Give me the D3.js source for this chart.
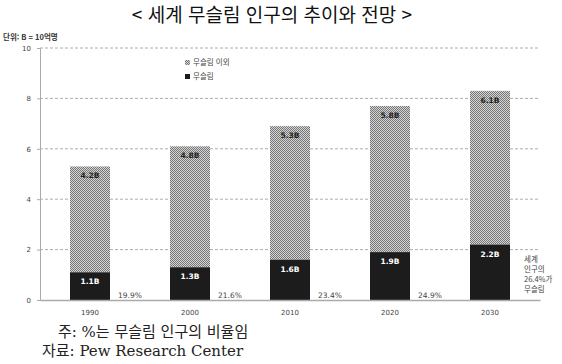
<!DOCTYPE html>
<html lang="ko">
<head>
  <meta charset="UTF-8">
  <title>세계 무슬림 인구의 추이와 전망</title>
  <style>
    body { margin: 0; background: #fff; }
    svg { display: block; }
  </style>
</head>
<body>
  <svg id="svg" width="562" height="364"></svg>
  <script src="https://d3js.org/d3.v7.min.js"></script>
  <script>
    // data (B = 10억명)
    const years = ['1990', '2000', '2010', '2020', '2030']
    const muslim = [1.1, 1.3, 1.6, 1.9, 2.2]
    const others = [4.2, 4.8, 5.3, 5.8, 6.1]
    const shares = ['19.9%', '21.6%', '23.4%', '24.9%']
    const yTicks = [0, 2, 4, 6, 8, 10]

    const svg = d3.select('#svg')
    const margin = { left: 40, right: 22, top: 48, bottom: 64 }
    const W = 562, H = 364

    // dotted fill for non-muslim part
    const defs = svg.append('defs')
    const pat = defs.append('pattern')
      .attr('id', 'dots').attr('width', 2).attr('height', 2)
      .attr('patternUnits', 'userSpaceOnUse')
    pat.append('rect').attr('width', 2).attr('height', 2).attr('fill', '#d4d4d4')
    pat.append('rect').attr('width', 1).attr('height', 1).attr('fill', '#777')
    pat.append('rect').attr('x', 1).attr('y', 1).attr('width', 1).attr('height', 1).attr('fill', '#777')

    const x = d3.scaleBand().domain(years)
      .range([margin.left, W - margin.right]).paddingInner(0.6).paddingOuter(0.3)
    const y = d3.scaleLinear().domain([0, 10]).range([H - margin.bottom, margin.top])

    // title
    svg.append('text').attr('x', 272).attr('y', 22)
      .attr('text-anchor', 'middle')
      .attr('font-family', "'Noto Sans CJK KR', sans-serif")
      .attr('font-size', 19).attr('fill', '#111')
      .text('< 세계 무슬림 인구의 추이와 전망 >')

    svg.append('text').attr('x', 3).attr('y', 40)
      .attr('font-family', "'Noto Sans CJK KR', sans-serif")
      .attr('font-size', 7.5).attr('font-weight', 'bold').attr('fill', '#333')
      .text('단위: B = 10억명')

    // gridlines
    svg.append('g').selectAll('line')
      .data(yTicks.filter(d => d > 0))
      .join('line')
      .attr('x1', margin.left).attr('x2', W - margin.right)
      .attr('y1', d => y(d)).attr('y2', d => y(d))
      .attr('stroke', '#999').attr('stroke-width', 0.8)
      .attr('stroke-dasharray', '3,2')

    // y axis
    const yAxis = svg.append('g')
      .attr('transform', `translate(${margin.left},0)`)
      .call(d3.axisLeft(y).tickValues(yTicks).tickSize(3).tickPadding(6))
    yAxis.select('.domain').attr('stroke', '#aaa')
    yAxis.selectAll('.tick line').attr('stroke', '#aaa')
    yAxis.selectAll('text').attr('font-family', 'DejaVu Sans').attr('font-size', 7).attr('fill', '#444')

    // bars
    const bars = svg.append('g').selectAll('g').data(years).join('g')
    bars.append('rect')
      .attr('x', d => x(d)).attr('width', x.bandwidth())
      .attr('y', (d, i) => y(muslim[i] + others[i]))
      .attr('height', (d, i) => y(muslim[i]) - y(muslim[i] + others[i]))
      .attr('fill', 'url(#dots)')
    bars.append('rect')
      .attr('x', d => x(d)).attr('width', x.bandwidth())
      .attr('y', (d, i) => y(muslim[i]))
      .attr('height', (d, i) => y(0) - y(muslim[i]))
      .attr('fill', '#1c1c1c')

    bars.append('text')
      .attr('x', d => x(d) + x.bandwidth() / 2)
      .attr('y', (d, i) => y(muslim[i] + others[i]) + 12)
      .attr('text-anchor', 'middle')
      .attr('font-family', 'DejaVu Sans').attr('font-size', 7.5).attr('font-weight', 'bold')
      .attr('fill', '#222')
      .text((d, i) => others[i].toFixed(1) + 'B')
    bars.append('text')
      .attr('x', d => x(d) + x.bandwidth() / 2)
      .attr('y', (d, i) => y(muslim[i]) + 12)
      .attr('text-anchor', 'middle')
      .attr('font-family', 'DejaVu Sans').attr('font-size', 7.5).attr('font-weight', 'bold')
      .attr('fill', '#fff')
      .text((d, i) => muslim[i].toFixed(1) + 'B')

    // share labels beside bars
    svg.append('g').selectAll('text').data(shares).join('text')
      .attr('x', (d, i) => x(years[i]) + x.bandwidth() + 20)
      .attr('y', y(0) - 2)
      .attr('text-anchor', 'middle')
      .attr('font-family', 'DejaVu Sans').attr('font-size', 7.5)
      .attr('fill', '#444')
      .text(d => d)

    // x axis
    const xAxis = svg.append('g')
      .attr('transform', `translate(0,${y(0)})`)
      .call(d3.axisBottom(x).tickSize(0).tickPadding(10))
    xAxis.select('.domain').attr('stroke', '#aaa').attr('stroke-width', 1.5)
    xAxis.selectAll('text').attr('font-family', 'DejaVu Sans').attr('font-size', 7).attr('fill', '#444')

    // 2030 note
    const note = ['세계', '인구의', '26.4%가', '무슬림']
    svg.append('text')
      .attr('font-family', "'Noto Sans CJK KR', sans-serif")
      .attr('font-size', 7.5).attr('fill', '#444')
      .selectAll('tspan').data(note).join('tspan')
      .attr('x', x('2030') + x.bandwidth() + 14)
      .attr('y', (d, i) => y(0) - 38 + i * 10)
      .text(d => d)

    // legend
    const legend = svg.append('g').attr('transform', 'translate(185,65)')
    legend.append('rect').attr('x', 0).attr('y', -5).attr('width', 5).attr('height', 5).attr('fill', 'url(#dots)')
    legend.append('rect').attr('x', 0).attr('y', 9).attr('width', 5).attr('height', 5).attr('fill', '#1c1c1c')
    legend.append('text').attr('x', 8).attr('y', 0)
      .attr('font-family', "'Noto Sans CJK KR', sans-serif").attr('font-size', 7.5).attr('fill', '#444')
      .text('무슬림 이외')
    legend.append('text').attr('x', 8).attr('y', 14)
      .attr('font-family', "'Noto Sans CJK KR', sans-serif").attr('font-size', 7.5).attr('fill', '#444')
      .text('무슬림')

    // footnotes
    const foot = svg.append('g')
      .attr('font-family', "'DejaVu Serif', 'Liberation Serif', 'Noto Sans CJK KR', serif")
      .attr('font-size', 15).attr('fill', '#222')
    foot.append('text').attr('x', 58).attr('y', 337).text('주: %는 무슬림 인구의 비율임')
    foot.append('text').attr('x', 42).attr('y', 356).text('자료: Pew Research Center')
  </script>
</body>
</html>
